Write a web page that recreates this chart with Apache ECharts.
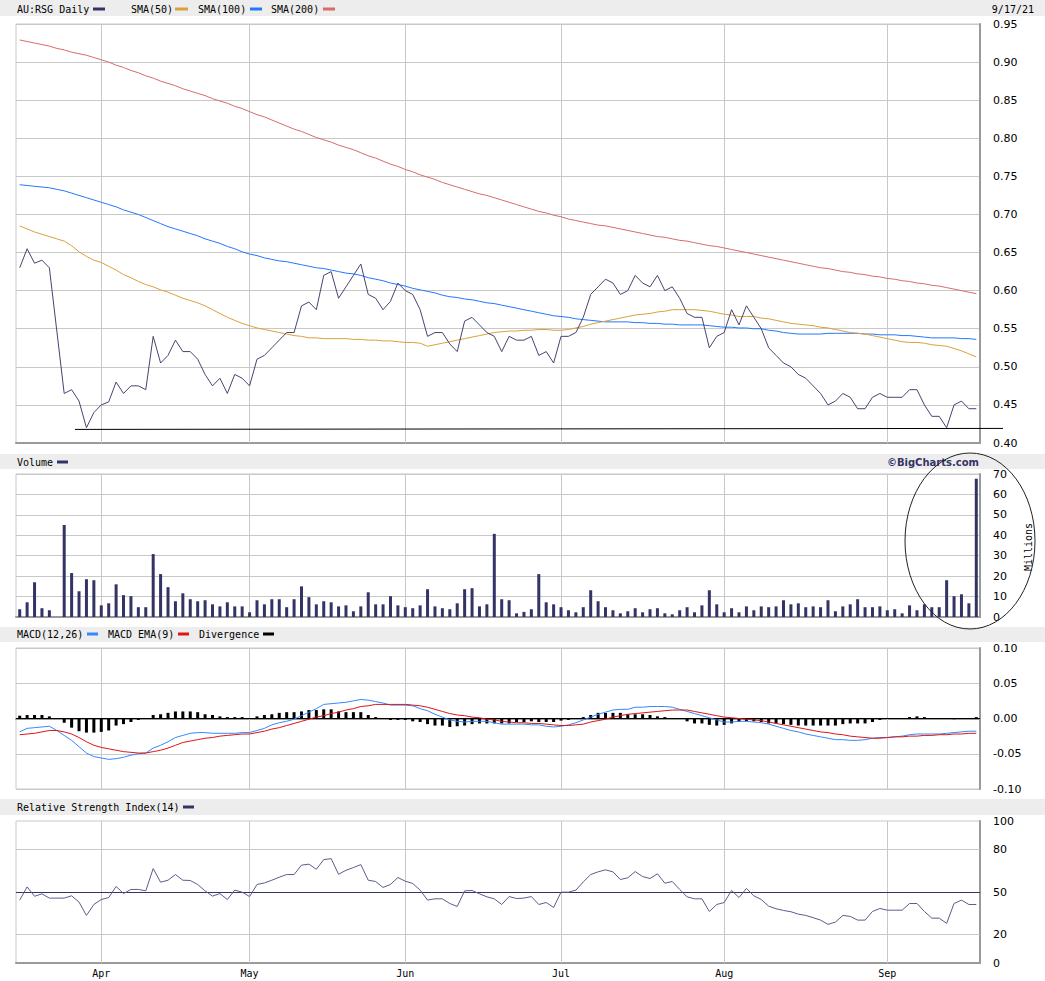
<!DOCTYPE html>
<html>
<head>
<meta charset="utf-8">
<title>AU:RSG Daily</title>
<script src="https://cdn.jsdelivr.net/npm/echarts@6/dist/echarts.min.js"></script>
<style>
  html, body { margin: 0; padding: 0; background: #fff; }
  #main { width: 1045px; height: 981px; }
</style>
</head>
<body>
<div id="main"></div>
<script>
// 交易日（ASX），3/24 停牌无数据
var dates = [
  '3/17','3/18','3/19','3/22','3/23','3/24','3/25','3/26','3/29','3/30','3/31',
  '4/1','4/6','4/7','4/8','4/9','4/12','4/13','4/14','4/15','4/16','4/19','4/20','4/21','4/22','4/23','4/26','4/27','4/28','4/29','4/30',
  '5/3','5/4','5/5','5/6','5/7','5/10','5/11','5/12','5/13','5/14','5/17','5/18','5/19','5/20','5/21','5/24','5/25','5/26','5/27','5/28','5/31',
  '6/1','6/2','6/3','6/4','6/7','6/8','6/9','6/10','6/11','6/15','6/16','6/17','6/18','6/21','6/22','6/23','6/24','6/25','6/28','6/29','6/30',
  '7/1','7/2','7/5','7/6','7/7','7/8','7/9','7/12','7/13','7/14','7/15','7/16','7/19','7/20','7/21','7/22','7/23','7/26','7/27','7/28','7/29','7/30',
  '8/2','8/3','8/4','8/5','8/6','8/9','8/10','8/11','8/12','8/13','8/16','8/17','8/18','8/19','8/20','8/23','8/24','8/25','8/26','8/27','8/30','8/31',
  '9/1','9/2','9/3','9/6','9/7','9/8','9/9','9/10','9/13','9/14','9/15','9/16','9/17'
];
var monthStarts = ['4/1', '5/3', '6/1', '7/1', '8/2', '9/1'];
var monthLabels = ['Apr', 'May', 'Jun', 'Jul', 'Aug', 'Sep'];

var price = [
  0.630, 0.655, 0.636, 0.640, 0.630, null, 0.465, 0.470, 0.455, 0.420,
  0.440, 0.450, 0.454, 0.480, 0.465, 0.475, 0.475, 0.470, 0.540, 0.505,
  0.515, 0.535, 0.520, 0.520, 0.510, 0.490, 0.475, 0.485, 0.465, 0.490,
  0.485, 0.475, 0.510, 0.515, 0.525, 0.535, 0.545, 0.545, 0.580, 0.585,
  0.575, 0.620, 0.625, 0.590, 0.605, 0.620, 0.635, 0.595, 0.590, 0.575,
  0.586, 0.610, 0.600, 0.595, 0.575, 0.540, 0.545, 0.545, 0.530, 0.520,
  0.560, 0.565, 0.555, 0.545, 0.540, 0.520, 0.540, 0.535, 0.535, 0.540,
  0.515, 0.520, 0.505, 0.540, 0.540, 0.545, 0.565, 0.595, 0.605, 0.615,
  0.610, 0.595, 0.600, 0.620, 0.610, 0.605, 0.620, 0.600, 0.605, 0.590,
  0.570, 0.565, 0.565, 0.525, 0.540, 0.545, 0.575, 0.555, 0.580, 0.565,
  0.550, 0.525, 0.515, 0.505, 0.500, 0.490, 0.485, 0.475, 0.465, 0.450,
  0.455, 0.465, 0.460, 0.445, 0.445, 0.460, 0.465, 0.460, 0.460, 0.460,
  0.470, 0.470, 0.450, 0.435, 0.435, 0.420, 0.450, 0.455, 0.445, 0.445
];
var sma50 = [
  0.685, 0.681, 0.677, 0.674, 0.671, 0.668, 0.665, 0.659, 0.651, 0.645,
  0.640, 0.637, 0.632, 0.627, 0.621, 0.617, 0.612, 0.608, 0.605, 0.601,
  0.598, 0.594, 0.590, 0.587, 0.584, 0.580, 0.575, 0.570, 0.565, 0.561,
  0.557, 0.554, 0.551, 0.549, 0.547, 0.545, 0.543, 0.541, 0.540, 0.538,
  0.538, 0.537, 0.537, 0.537, 0.537, 0.536, 0.536, 0.535, 0.535, 0.534,
  0.534, 0.533, 0.532, 0.532, 0.531, 0.527, 0.529, 0.531, 0.533, 0.535,
  0.537, 0.539, 0.541, 0.543, 0.545, 0.546, 0.547, 0.547, 0.548, 0.548,
  0.549, 0.549, 0.548, 0.548, 0.549, 0.551, 0.553, 0.556, 0.558, 0.560,
  0.562, 0.564, 0.566, 0.568, 0.569, 0.570, 0.572, 0.573, 0.575, 0.575,
  0.575, 0.575, 0.574, 0.573, 0.571, 0.569, 0.568, 0.566, 0.566, 0.566,
  0.564, 0.563, 0.561, 0.559, 0.557, 0.556, 0.555, 0.554, 0.552, 0.551,
  0.549, 0.547, 0.545, 0.544, 0.543, 0.541, 0.539, 0.537, 0.535, 0.533,
  0.532, 0.532, 0.531, 0.529, 0.528, 0.527, 0.524, 0.521, 0.517, 0.513
];
var sma100 = [
  0.739, 0.738, 0.737, 0.736, 0.735, 0.733, 0.731, 0.728, 0.725, 0.722,
  0.719, 0.716, 0.713, 0.710, 0.706, 0.703, 0.700, 0.696, 0.692, 0.688,
  0.684, 0.681, 0.678, 0.675, 0.672, 0.668, 0.665, 0.662, 0.658, 0.655,
  0.651, 0.648, 0.646, 0.643, 0.641, 0.639, 0.638, 0.636, 0.634, 0.632,
  0.630, 0.629, 0.627, 0.625, 0.623, 0.622, 0.620, 0.617, 0.615, 0.613,
  0.610, 0.608, 0.606, 0.603, 0.601, 0.599, 0.597, 0.594, 0.592, 0.591,
  0.589, 0.588, 0.586, 0.584, 0.583, 0.581, 0.579, 0.577, 0.575, 0.573,
  0.571, 0.569, 0.567, 0.566, 0.565, 0.563, 0.562, 0.561, 0.560, 0.559,
  0.559, 0.559, 0.559, 0.558, 0.558, 0.557, 0.557, 0.556, 0.556, 0.555,
  0.555, 0.555, 0.555, 0.554, 0.553, 0.552, 0.552, 0.551, 0.551, 0.550,
  0.550, 0.548, 0.547, 0.545, 0.544, 0.543, 0.543, 0.543, 0.543, 0.544,
  0.544, 0.544, 0.544, 0.544, 0.543, 0.543, 0.542, 0.542, 0.542, 0.541,
  0.541, 0.540, 0.539, 0.538, 0.538, 0.538, 0.538, 0.537, 0.537, 0.536
];
var sma200 = [
  0.929, 0.927, 0.925, 0.923, 0.921, 0.918, 0.916, 0.913, 0.911, 0.909,
  0.906, 0.903, 0.900, 0.896, 0.893, 0.889, 0.886, 0.882, 0.879, 0.875,
  0.872, 0.869, 0.865, 0.862, 0.859, 0.856, 0.852, 0.849, 0.846, 0.842,
  0.839, 0.835, 0.831, 0.828, 0.824, 0.820, 0.816, 0.812, 0.809, 0.805,
  0.801, 0.798, 0.795, 0.791, 0.788, 0.785, 0.781, 0.777, 0.774, 0.770,
  0.766, 0.763, 0.759, 0.756, 0.752, 0.749, 0.746, 0.742, 0.739, 0.736,
  0.733, 0.730, 0.727, 0.725, 0.722, 0.719, 0.716, 0.713, 0.710, 0.707,
  0.704, 0.702, 0.699, 0.697, 0.694, 0.692, 0.690, 0.688, 0.686, 0.685,
  0.683, 0.681, 0.679, 0.677, 0.675, 0.673, 0.671, 0.670, 0.668, 0.666,
  0.665, 0.663, 0.661, 0.659, 0.658, 0.656, 0.654, 0.652, 0.650, 0.648,
  0.646, 0.644, 0.642, 0.640, 0.638, 0.636, 0.634, 0.632, 0.630, 0.629,
  0.627, 0.625, 0.624, 0.622, 0.621, 0.619, 0.618, 0.616, 0.615, 0.613,
  0.612, 0.610, 0.609, 0.607, 0.606, 0.604, 0.602, 0.600, 0.598, 0.596
];
// 成交量（百万股）
var volume = [
  3.8, 7.2, 17, 4.3, 3.3, null, 45, 21.5, 12.6, 18.5,
  18, 5.7, 6.7, 16, 10.7, 10.2, 4.8, 4.8, 30.8, 21,
  14.6, 7.7, 11.6, 8.7, 7.7, 8.2, 6.2, 5.2, 7.2, 5.2,
  5.2, 2.3, 8.2, 6.2, 8.7, 8.7, 4.8, 8.7, 15, 9.7,
  6.2, 7.7, 7.2, 5.2, 5.7, 2.8, 5.2, 12.1, 6.2, 6.2,
  10.2, 5.7, 4.8, 4.3, 5.7, 13.6, 5.2, 4.3, 3.8, 6.7,
  13.6, 14.1, 5.2, 6.2, 40.7, 8.7, 8.2, 1.8, 2.5, 3.8,
  21, 7.2, 6.2, 4.8, 3.3, 2.3, 4.8, 13.1, 7.7, 4.8,
  3.3, 1.8, 2.8, 4.3, 2.3, 3.8, 4.3, 1.8, 1.3, 3.3,
  4.8, 2.3, 5.7, 13.1, 6.2, 2.3, 4.3, 2.3, 5.2, 3.3,
  5.2, 4.8, 5.2, 8.2, 6.2, 6.7, 4.8, 5.2, 4.8, 8.2,
  2.8, 5.2, 6.2, 8.7, 4.8, 4.8, 5.2, 3.3, 3.8, 1.8,
  5.7, 3.3, 6.2, 4.8, 4.8, 18, 10.2, 11.1, 6.7, 67.7
];
var macd = [
  -0.019, -0.014, -0.013, -0.012, -0.011, -0.017, -0.024, -0.031, -0.040, -0.049,
  -0.054, -0.056, -0.058, -0.057, -0.055, -0.052, -0.050, -0.049, -0.042, -0.038,
  -0.033, -0.027, -0.024, -0.021, -0.020, -0.020, -0.021, -0.021, -0.021, -0.021,
  -0.020, -0.020, -0.017, -0.014, -0.009, -0.006, -0.004, -0.001, 0.004, 0.009,
  0.014, 0.020, 0.021, 0.022, 0.023, 0.025, 0.027, 0.026, 0.024, 0.022,
  0.019, 0.019, 0.019, 0.018, 0.014, 0.011, 0.006, 0.002, -0.002, -0.004,
  -0.005, -0.004, -0.004, -0.004, -0.006, -0.008, -0.008, -0.008, -0.008, -0.009,
  -0.009, -0.011, -0.012, -0.011, -0.009, -0.006, -0.002, 0.002, 0.006, 0.009,
  0.012, 0.013, 0.013, 0.016, 0.016, 0.017, 0.017, 0.017, 0.016, 0.013,
  0.010, 0.007, 0.004, 0.001, -0.002, -0.005, -0.005, -0.004, -0.004, -0.005,
  -0.006, -0.008, -0.011, -0.014, -0.017, -0.019, -0.022, -0.024, -0.026, -0.028,
  -0.030, -0.030, -0.031, -0.031, -0.030, -0.028, -0.027, -0.027, -0.026, -0.025,
  -0.023, -0.022, -0.022, -0.022, -0.022, -0.021, -0.020, -0.019, -0.018, -0.018
];
var macdEma = [
  -0.023, -0.022, -0.021, -0.019, -0.017, -0.017, -0.019, -0.022, -0.027, -0.033,
  -0.038, -0.041, -0.043, -0.045, -0.047, -0.048, -0.049, -0.049, -0.047, -0.045,
  -0.042, -0.038, -0.034, -0.032, -0.030, -0.028, -0.027, -0.025, -0.024, -0.023,
  -0.022, -0.022, -0.020, -0.018, -0.015, -0.013, -0.010, -0.007, -0.004, -0.001,
  0.002, 0.004, 0.007, 0.009, 0.012, 0.014, 0.017, 0.018, 0.020, 0.020,
  0.020, 0.020, 0.020, 0.019, 0.018, 0.016, 0.013, 0.010, 0.007, 0.005,
  0.004, 0.002, 0.001, -0.001, -0.002, -0.004, -0.005, -0.006, -0.006, -0.007,
  -0.007, -0.008, -0.009, -0.010, -0.010, -0.009, -0.008, -0.005, -0.003, -0.001,
  0.002, 0.004, 0.006, 0.007, 0.008, 0.009, 0.010, 0.011, 0.012, 0.012,
  0.012, 0.010, 0.008, 0.006, 0.004, 0.002, 0.001, 0.000, -0.001, -0.002,
  -0.003, -0.005, -0.007, -0.009, -0.011, -0.013, -0.015, -0.017, -0.019, -0.020,
  -0.022, -0.023, -0.025, -0.026, -0.027, -0.028, -0.028, -0.027, -0.026, -0.026,
  -0.025, -0.025, -0.024, -0.024, -0.023, -0.023, -0.022, -0.022, -0.021, -0.021
];
var divergence = [
  0.004, 0.005, 0.005, 0.005, 0.003, null, -0.006, -0.013, -0.018, -0.020,
  -0.020, -0.019, -0.017, -0.010, -0.008, -0.005, -0.002, 0, 0.005, 0.006,
  0.008, 0.010, 0.010, 0.010, 0.009, 0.006, 0.005, 0.003, 0.002, 0.002,
  0.002, 0, 0.003, 0.005, 0.006, 0.008, 0.009, 0.009, 0.010, 0.012,
  0.012, 0.013, 0.013, 0.010, 0.009, 0.009, 0.009, 0.005, 0.002, 0,
  -0.002, -0.002, -0.002, -0.004, -0.005, -0.008, -0.010, -0.010, -0.012, -0.011,
  -0.010, -0.008, -0.007, -0.007, -0.007, -0.007, -0.007, -0.005, -0.005, -0.004,
  -0.005, -0.005, -0.005, -0.003, -0.002, 0, 0.002, 0.005, 0.008, 0.008,
  0.008, 0.008, 0.006, 0.006, 0.006, 0.005, 0.003, 0.002, 0, 0,
  -0.004, -0.007, -0.007, -0.009, -0.010, -0.009, -0.007, -0.005, -0.004, -0.004,
  -0.005, -0.007, -0.007, -0.008, -0.009, -0.010, -0.010, -0.010, -0.010, -0.010,
  -0.010, -0.008, -0.007, -0.007, -0.007, -0.005, -0.002, 0, 0, 0,
  0.002, 0.003, 0.002, 0, 0, 0, -0.001, 0, 0, 0.002
];
var rsi = [
  44.3, 53.6, 47, 48.7, 45.7, null, 45.7, 47.3, 42.9, 33.5,
  41.2, 44.7, 46.1, 53.9, 48.9, 51.8, 51.8, 50.8, 66.5, 56.9,
  58.3, 62.3, 58.3, 58.1, 55.3, 50.8, 47.1, 48.9, 44.7, 51.3,
  49.9, 46.8, 55.3, 56.4, 58.3, 60.4, 62.3, 62.3, 68.9, 69.6,
  66, 72.8, 73.5, 62.5, 65.3, 67.2, 69.3, 58.3, 57.4, 53.2,
  55.3, 60.2, 57.6, 56, 51.3, 44.3, 45.2, 45.2, 41.9, 39.8,
  50.8, 51.1, 48.7, 46.6, 45.2, 41.2, 46.8, 45.4, 45.7, 46.8,
  41.2, 42.6, 39.1, 49.9, 49.9, 51.3, 57.1, 62.3, 64.2, 65.6,
  64.2, 58.8, 60, 64.4, 60.9, 59.5, 62.8, 56.2, 57.4, 51.8,
  46.6, 45.2, 45.2, 36.3, 41.2, 42.6, 51.1, 46.1, 52.5, 47.3,
  44.7, 40, 38.2, 37, 36.1, 34.4, 33.5, 31.9, 30.2, 27.2,
  28.8, 33.5, 32.8, 30.2, 30.2, 36.3, 38.4, 37.2, 37.2, 37.2,
  41.9, 41.9, 36.3, 31.6, 31.6, 27.9, 41.9, 44.3, 41.2, 41.2
];
var rsiTicks = [0, 20, 50, 80, 100];
var SUPPORT_LEVEL = 0.4185;   // 手绘的支撑线

var GRID_COLOR = '#c8c8c8';
var FRAME_COLOR = '#9a9a9a';
var MONO = '"DejaVu Sans Mono", monospace';

// 月份竖线（画在每根K线的中心）
function monthLines() {
  return monthStarts.map(function (d) { return { xAxis: d }; });
}
function markLineBase(data) {
  return {
    silent: true,
    symbol: ['none', 'none'],
    z: 1,
    animation: false,
    label: { show: false },
    lineStyle: { color: GRID_COLOR, type: 'solid', width: 1 },
    data: data
  };
}

var grids = [
  { top: 24, height: 419 },
  { top: 474, height: 143 },
  { top: 648, height: 141 },
  { top: 821, height: 142 }
].map(function (g) {
  return {
    left: 16, width: 964, top: g.top, height: g.height,
    show: true, backgroundColor: '#fff',
    borderColor: GRID_COLOR, borderWidth: 1,
    containLabel: false, outerBoundsMode: 'none'
  };
});

var xAxes = [0, 1, 2, 3].map(function (i) {
  return {
    type: 'category', gridIndex: i, data: dates, boundaryGap: true,
    axisLine: { show: true, lineStyle: { color: FRAME_COLOR, width: 2 } },
    axisTick: { show: false },
    splitLine: { show: false },
    axisLabel: {
      show: i === 3,
      interval: function (idx, val) { return monthStarts.indexOf(val) >= 0; },
      formatter: function (val) { return monthLabels[monthStarts.indexOf(val)]; },
      color: '#000', fontFamily: 'DejaVu Sans Mono', fontSize: 10, margin: 5
    }
  };
});

function yAxisOf(i, min, max, interval, fmt, showSplit) {
  return {
    type: 'value', gridIndex: i, position: 'right',
    min: min, max: max, interval: interval,
    axisLine: { show: true, lineStyle: { color: FRAME_COLOR, width: 2 } },
    axisTick: { show: false },
    splitLine: { show: showSplit, lineStyle: { color: GRID_COLOR, width: 1 } },
    axisLabel: {
      color: '#000', fontFamily: 'DejaVu Sans', fontSize: 11, margin: 13,
      formatter: fmt
    }
  };
}

var yAxes = [
  yAxisOf(0, 0.40, 0.95, 0.05, function (v) { return v.toFixed(2); }, true),
  yAxisOf(1, 0, 70, 10, function (v) { return String(Math.round(v)); }, true),
  yAxisOf(2, -0.10, 0.10, 0.05, function (v) {
    return Math.abs(v) < 1e-9 ? '0.00' : v.toFixed(2);
  }, true),
  yAxisOf(3, 0, 100, 10, function (v) {
    return rsiTicks.indexOf(Math.round(v)) >= 0 ? String(Math.round(v)) : '';
  }, false)
];

function lineSeries(name, data, color, xi, z, extra) {
  var s = {
    name: name, type: 'line', data: data,
    xAxisIndex: xi, yAxisIndex: xi,
    showSymbol: false, symbol: 'none', connectNulls: true,
    lineStyle: { color: color, width: 1 },
    itemStyle: { color: color },
    z: z, animation: false
  };
  for (var k in extra) s[k] = extra[k];
  return s;
}

var rsiMarks = monthLines().concat([
  { yAxis: 20 }, { yAxis: 80 },
  { yAxis: 50, lineStyle: { color: '#333366', width: 1, type: 'solid' } }
]);

var option = {
  backgroundColor: '#fff',
  animation: false,
  grid: grids,
  xAxis: xAxes,
  yAxis: yAxes,
  series: [
    lineSeries('SMA(200)', sma200, '#d96b6b', 0, 2, { markLine: markLineBase(monthLines()) }),
    lineSeries('SMA(100)', sma100, '#2277ff', 0, 3),
    lineSeries('SMA(50)', sma50, '#d9a03c', 0, 4),
    lineSeries('AU:RSG Daily', price, '#45456f', 0, 5),
    {
      name: 'Volume', type: 'bar', data: volume, xAxisIndex: 1, yAxisIndex: 1,
      barWidth: 3, itemStyle: { color: '#333366' }, z: 3, animation: false,
      markLine: markLineBase(monthLines())
    },
    {
      name: 'Divergence', type: 'bar', data: divergence, xAxisIndex: 2, yAxisIndex: 2,
      barWidth: 3, itemStyle: { color: '#000' }, z: 2, animation: false,
      markLine: {
        silent: true, symbol: ['none', 'none'], z: 3, animation: false,
        label: { show: false },
        lineStyle: { color: '#000', type: 'solid', width: 1 },
        data: [{ yAxis: 0 }]
      }
    },
    lineSeries('MACD(12,26)', macd, '#3388ff', 2, 4, { markLine: markLineBase(monthLines()) }),
    lineSeries('MACD EMA(9)', macdEma, '#dd1515', 2, 5),
    lineSeries('Relative Strength Index(14)', rsi, '#5c5c8a', 3, 4, { markLine: markLineBase(rsiMarks) })
  ]
};

var chart = echarts.init(document.getElementById('main'), null, { renderer: 'svg' });
chart.setOption(option);

// 标题栏、图例、注释
function band(y, h) {
  return { type: 'rect', shape: { x: 0, y: y, width: 1045, height: h }, style: { fill: '#ededed' }, silent: true };
}
function label(text, x, y, opts) {
  opts = opts || {};
  return {
    type: 'text', x: x, y: y, rotation: opts.rotation || 0, silent: true,
    style: {
      text: text, fill: opts.fill || '#000',
      font: opts.font || ('10px ' + MONO),
      align: opts.align || 'left', verticalAlign: 'middle'
    }
  };
}
function icon(x, y, w, color) {
  return { type: 'rect', shape: { x: x, y: y - 1.5, width: w, height: 3 }, style: { fill: color }, silent: true };
}

var supportY = chart.convertToPixel({ yAxisIndex: 0 }, SUPPORT_LEVEL);

chart.setOption({
  graphic: [
    band(0, 16), band(454, 15), band(627, 15), band(799, 16),
    label('AU:RSG Daily', 17, 9), icon(93, 9, 12, '#333366'),
    label('SMA(50)', 131, 9), icon(175, 9, 13, '#d9a03c'),
    label('SMA(100)', 198, 9), icon(250, 9, 12, '#2277ff'),
    label('SMA(200)', 271, 9), icon(323, 9, 12, '#d96b6b'),
    label('9/17/21', 1034, 9, { align: 'right' }),
    label('Volume', 17, 462), icon(57, 462, 11, '#333366'),
    label('©BigCharts.com', 979, 462, { align: 'right', fill: '#333366', font: 'bold 10px "DejaVu Sans", sans-serif' }),
    label('Millions', 1028, 547, { align: 'center', rotation: Math.PI / 2 }),
    label('MACD(12,26)', 17, 634), icon(87, 634, 11, '#3388ff'),
    label('MACD EMA(9)', 108, 634), icon(178, 634, 11, '#dd1515'),
    label('Divergence', 199, 634), icon(263, 634, 11, '#000'),
    label('Relative Strength Index(14)', 17, 807), icon(183, 807, 11, '#333366'),
    {
      type: 'line', silent: true, z: 10,
      shape: { x1: 75, y1: supportY + 0.5, x2: 1003, y2: supportY - 0.5 },
      style: { stroke: '#000', lineWidth: 1 }
    },
    {
      type: 'ellipse', silent: true, z: 10,
      shape: { cx: 970, cy: 541, rx: 65, ry: 88 },
      style: { fill: 'none', stroke: '#222', lineWidth: 1 }
    }
  ]
});
</script>
</body>
</html>
